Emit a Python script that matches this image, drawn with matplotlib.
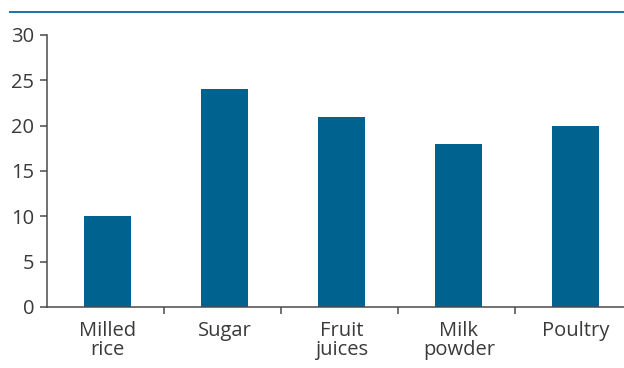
import matplotlib.pyplot as plt
from matplotlib.lines import Line2D

# values
categories = ['Milled\nrice', 'Sugar', 'Fruit\njuices', 'Milk\npowder', 'Poultry']
values = [10, 24, 21, 18, 20]
y_ticks = [0, 5, 10, 15, 20, 25, 30]

bar_color = '#00628F'
rule_color = '#1B72AC'
text_color = '#3A3A3A'
axis_color = '#4A4A4A'

plt.rcParams['font.family'] = ['Open Sans', 'DejaVu Sans']

fig = plt.figure(figsize=(6.24, 3.68), dpi=100)

# x span of one category is 117 px; axes reaches past the right edge like the source
left_px, bottom_px, top_px = 47, 307, 35
cat_px = 117
x_lo = -0.52
x_hi = 4.5
ax = fig.add_axes([left_px / 624, (368 - bottom_px) / 368,
                   (x_hi - x_lo) * cat_px / 624, (bottom_px - top_px) / 368])

xs = list(range(len(categories)))
ax.bar(xs, values, width=0.4, color=bar_color, zorder=2)

ax.set_xlim(x_lo, x_hi)
ax.set_ylim(0, 30)
ax.set_yticks(y_ticks)
ax.set_yticklabels([str(v) for v in y_ticks])

# category labels centred under bars, tick marks on category boundaries
ax.set_xticks(xs)
ax.set_xticklabels(categories, linespacing=0.95)
ax.tick_params(axis='x', which='major', length=0, pad=10)
ax.set_xticks([x + 0.5 - 0.02 for x in xs[:-1]], minor=True)
ax.tick_params(axis='x', which='minor', length=5, width=1.1, color=axis_color, direction='out')
ax.tick_params(axis='y', length=5, width=1.1, color=axis_color, pad=4)
ax.tick_params(labelsize=14.5, labelcolor=text_color)

for side in ['top', 'right']:
    ax.spines[side].set_visible(False)
for side in ['left', 'bottom']:
    ax.spines[side].set_color(axis_color)
    ax.spines[side].set_linewidth(1.1)

# blue rule across the top of the figure
fig.add_artist(Line2D([10 / 624, 1.0], [1 - 12.3 / 368, 1 - 12.3 / 368],
                      color=rule_color, linewidth=1.4, transform=fig.transFigure))

fig.savefig('out.png', dpi=100)
